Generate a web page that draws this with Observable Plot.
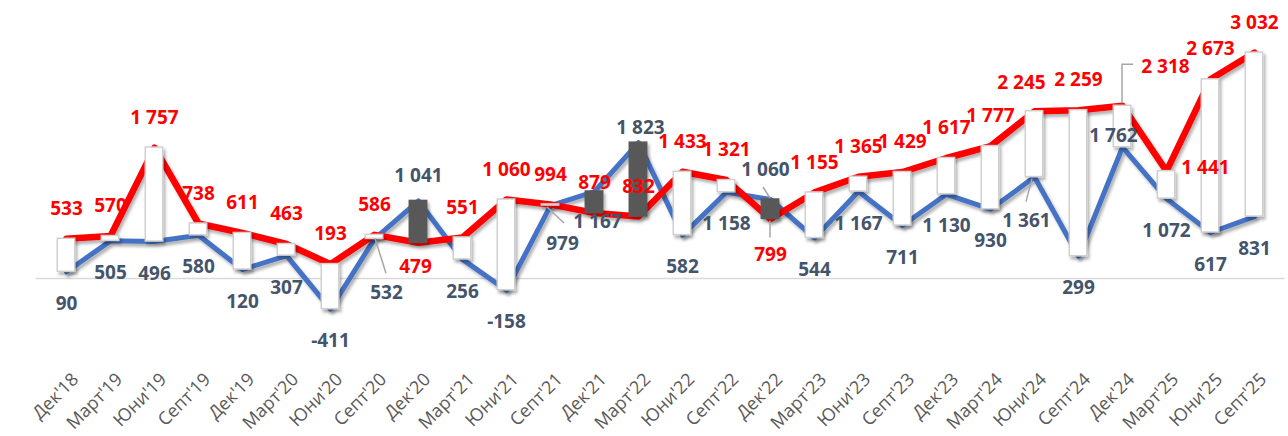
<!DOCTYPE html>
<html>
<head>
<meta charset="utf-8">
<script src="https://cdn.jsdelivr.net/npm/d3@7"></script>
<script src="https://cdn.jsdelivr.net/npm/@observablehq/plot@0.6"></script>
<style>
  html, body { margin: 0; padding: 0; background: #ffffff; }
  #chart { width: 1288px; height: 436px; overflow: hidden; }
</style>
</head>
<body>
<div id="chart"></div>
<script>
// ---- data ----
const categories = ["Дек'18","Март'19","Юни'19","Септ'19","Дек'19","Март'20","Юни'20","Септ'20","Дек'20","Март'21","Юни'21","Септ'21","Дек'21","Март'22","Юни'22","Септ'22","Дек'22","Март'23","Юни'23","Септ'23","Дек'23","Март'24","Юни'24","Септ'24","Дек'24","Март'25","Юни'25","Септ'25"];
const redValues  = [533, 570, 1757, 738, 611, 463, 193, 586, 479, 551, 1060, 994, 879, 832, 1433, 1321, 799, 1155, 1365, 1429, 1617, 1777, 2245, 2259, 2318, 1441, 2673, 3032];
const blueValues = [90, 505, 496, 580, 120, 307, -411, 532, 1041, 256, -158, 979, 1167, 1823, 582, 1158, 1060, 544, 1167, 711, 1130, 930, 1361, 299, 1762, 1072, 617, 831];

// ---- label placement (pixel nudges, layout only) ----
const redDefault = [0, -30];
const blueDefault = [0, 32];
const redNudge = {8: [-3, 24], 16: [0, 36], 22: [-13, -28], 24: [43, -39], 25: [39, -3]};
const blueNudge = {7: [12, 54], 8: [0, -25], 11: [12, 38], 12: [3, 30], 13: [2, -15], 16: [-5, -30], 22: [-8, 44], 24: [-9, -11]};
// leader lines: [series, index, [[dx,dy], ...]] relative to the point
const leaders = [
  ["blue", 7, [[1, 0], [12, 35]]],
  ["blue", 11, [[-3, 2], [14, 18]]],
  ["blue", 16, [[-7, -12], [0, -1]]],
  ["red", 16, [[0, 2], [0, 19]]],
  ["blue", 22, [[-2, 2], [-8, 25]]],
  ["red", 24, [[0, -2], [0, -41], [11, -41]]]
];

const RED = "#FF0000", BLUE = "#4472C4", BLUE_TXT = "#44546A";
const fmt = v => String(v).replace(/\B(?=(\d{3})+(?!\d))/g, "\u00a0");

const rows = categories.map((c, i) => ({i, cat: c, red: redValues[i], blue: blueValues[i]}));

function labelMarks(key, color, def, nudges) {
  return rows.map(r => {
    const [dx, dy] = nudges[r.i] || def;
    return Plot.text([r], {
      x: "cat", y: key, text: d => fmt(d[key]),
      dx, dy, fill: color, fontSize: 19, fontWeight: 700
    });
  });
}

const chart = Plot.plot({
  width: 1288,
  height: 436,
  marginLeft: 35.7,
  marginRight: 3.5,
  marginTop: 0,
  marginBottom: 66,
  style: {fontFamily: "'Open Sans', sans-serif", fontSize: "18px", color: "#595959", background: "#ffffff"},
  x: {type: "band", domain: categories, padding: 0, label: null, tickRotate: -45, tickSize: 0, tickPadding: 7},
  y: {domain: [-1235, 3731], axis: null},
  marks: [
    Plot.ruleY([0], {stroke: "#D9D9D9", strokeWidth: 1.5}),
    Plot.lineY(rows, {x: "cat", y: "blue", stroke: BLUE, strokeWidth: 5, strokeLinejoin: "round"}),
    Plot.lineY(rows, {x: "cat", y: "red", stroke: RED, strokeWidth: 6.5, strokeLinejoin: "round"}),
    Plot.barY(rows, {
      x: "cat", y1: "blue", y2: "red",
      fill: d => d.red >= d.blue ? "#FFFFFF" : "#595959",
      stroke: d => d.red >= d.blue ? "#D0D0D0" : "#595959",
      strokeWidth: 1.5,
      insetLeft: 13.3, insetRight: 13.3
    }),
    ...labelMarks("blue", BLUE_TXT, blueDefault, blueNudge),
    ...labelMarks("red", RED, redDefault, redNudge)
  ]
});

document.getElementById("chart").appendChild(chart);

const svg = d3.select(chart);

// axis tick label styling
const catSet = new Set(categories);
svg.selectAll("text").filter(function () { return catSet.has(this.textContent); })
  .attr("font-size", 18).style("font-size", "18px").attr("fill", "#595959")
  .attr("transform", function () { return "translate(9,-1) " + (this.getAttribute("transform") || ""); });

// shadows
const defs = svg.insert("defs", ":first-child");
const f = defs.append("filter").attr("id", "sh").attr("x", "-10%").attr("y", "-10%").attr("width", "120%").attr("height", "130%");
f.append("feDropShadow").attr("dx", 2).attr("dy", 3).attr("stdDeviation", 1.8).attr("flood-color", "#000").attr("flood-opacity", 0.3);
svg.selectAll('g[aria-label="line"]').attr("filter", "url(#sh)");
svg.selectAll('g[aria-label="bar"]').attr("filter", "url(#sh)");

// leader lines via Plot scales
const xs = chart.scale("x"), ys = chart.scale("y");
const bw = xs.bandwidth || 0;
const lg = svg.append("g").attr("fill", "none").attr("stroke", "#A6A6A6").attr("stroke-width", 1.5);
for (const [series, i, pts] of leaders) {
  const px = xs.apply(categories[i]) + bw / 2;
  const py = ys.apply(series === "red" ? redValues[i] : blueValues[i]);
  lg.append("path").attr("d", d3.line()(pts.map(([dx, dy]) => [px + dx, py + dy])));
}
</script>
</body>
</html>
